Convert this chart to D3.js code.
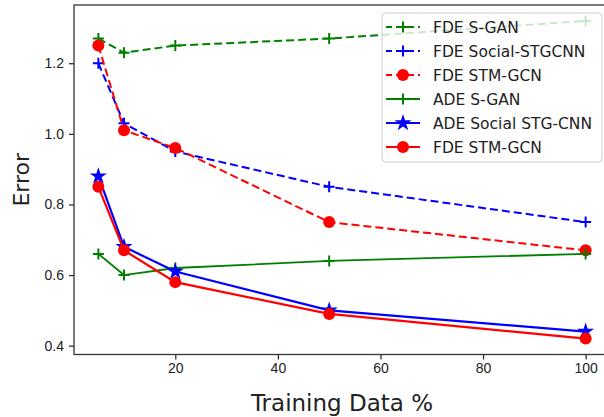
<!DOCTYPE html>
<html>
<head>
<meta charset="utf-8">
<script src="https://cdn.jsdelivr.net/npm/d3@7"></script>
<style>
  body { margin: 0; background: #fff; }
  svg { display: block; font-family: 'DejaVu Sans', sans-serif; }
  .tick text { font-size: 14px; fill: #222; }
  .tick line { stroke: #222; stroke-width: 1.2; }
  .domain { display: none; }
</style>
</head>
<body>
<svg width="604" height="417"></svg>
<script>
// training data percentage (x values)
const trainPct = [5, 10, 20, 50, 100];

const seriesNames = ['FDE S-GAN', 'FDE Social-STGCNN', 'FDE STM-GCN',
                     'ADE S-GAN', 'ADE Social STG-CNN', 'FDE STM-GCN'];

const fdeSGAN   = [1.27, 1.23, 1.25, 1.27, 1.32];
const fdeSocial = [1.20, 1.03, 0.95, 0.85, 0.75];
const fdeSTM    = [1.25, 1.01, 0.96, 0.75, 0.67];
const adeSGAN   = [0.66, 0.60, 0.62, 0.64, 0.66];
const adeSocial = [0.88, 0.68, 0.61, 0.50, 0.44];
const adeSTM    = [0.85, 0.67, 0.58, 0.49, 0.42];

const xTicks = [20, 40, 60, 80, 100];
const yTicks = [0.4, 0.6, 0.8, 1.0, 1.2];

const seriesValues = [fdeSGAN, fdeSocial, fdeSTM, adeSGAN, adeSocial, adeSTM];
const styles = [
  { color: '#008000', dash: '8,4', marker: 'plus', width: 2 },
  { color: '#0000ff', dash: '8,4', marker: 'plus', width: 2 },
  { color: '#ff0000', dash: '8,4', marker: 'circle', width: 2 },
  { color: '#008000', dash: null, marker: 'plus', width: 1.8 },
  { color: '#0000ff', dash: null, marker: 'star', width: 2.2 },
  { color: '#ff0000', dash: null, marker: 'circle', width: 2.2 }
];

const svg = d3.select('svg');
const m = { left: 74, right: 610, top: 5, bottom: 354.5 };

const x = d3.scaleLinear().domain([0.25, 104.75]).range([m.left, m.right]);
const y = d3.scaleLinear().domain([0.375, 1.365]).range([m.bottom, m.top]);

// axes
svg.append('g')
  .attr('transform', `translate(0,${m.bottom})`)
  .call(d3.axisBottom(x).tickValues(xTicks).tickSize(5).tickPadding(4).tickFormat(d3.format('d')));

svg.append('g')
  .attr('transform', `translate(${m.left},0)`)
  .call(d3.axisLeft(y).tickValues(yTicks).tickSize(5).tickPadding(5).tickFormat(d3.format('.1f')));

// frame
svg.append('rect')
  .attr('x', m.left).attr('y', m.top)
  .attr('width', m.right - m.left).attr('height', m.bottom - m.top)
  .attr('fill', 'none').attr('stroke', '#333').attr('stroke-width', 1.3);

// axis titles
svg.append('text')
  .attr('x', (m.left + m.right) / 2).attr('y', 411)
  .attr('text-anchor', 'middle')
  .style('font-size', '23px').attr('fill', '#222')
  .text('Training Data %');

svg.append('text')
  .attr('transform', `translate(29,${(m.top + m.bottom) / 2}) rotate(-90)`)
  .attr('text-anchor', 'middle')
  .style('font-size', '22px').attr('fill', '#222')
  .text('Error');

const drawMarker = (sel, st, cx, cy) => {
  if (st.marker === 'plus') {
    const s = 5.5;
    sel.append('path')
      .attr('d', `M${cx - s},${cy}H${cx + s}M${cx},${cy - s}V${cy + s}`)
      .attr('stroke', st.color).attr('stroke-width', 2).attr('fill', 'none');
  } else if (st.marker === 'circle') {
    sel.append('circle')
      .attr('cx', cx).attr('cy', cy).attr('r', 6)
      .attr('fill', st.color);
  } else if (st.marker === 'star') {
    sel.append('path')
      .attr('d', d3.symbol().type(d3.symbolStar).size(90)())
      .attr('transform', `translate(${cx},${cy})`)
      .attr('fill', st.color);
  }
};

const line = d3.line()
  .x((d, i) => x(trainPct[i]))
  .y(d => y(d));

const plot = svg.append('g');
seriesValues.forEach((vals, k) => {
  const st = styles[k];
  const g = plot.append('g');
  g.append('path')
    .attr('d', line(vals))
    .attr('fill', 'none')
    .attr('stroke', st.color)
    .attr('stroke-width', st.width)
    .attr('stroke-dasharray', st.dash);
  vals.forEach((v, i) => drawMarker(g, st, x(trainPct[i]), y(v)));
});

// legend
const legend = svg.append('g');
legend.append('rect')
  .attr('x', 382).attr('y', 13)
  .attr('width', 220).attr('height', 149)
  .attr('rx', 4)
  .attr('fill', '#fff').attr('fill-opacity', 0.8)
  .attr('stroke', '#ccc').attr('stroke-width', 1);

seriesNames.forEach((name, k) => {
  const st = styles[k];
  const cy = 27 + k * 24;
  const g = legend.append('g');
  g.append('line')
    .attr('x1', 386).attr('x2', 420)
    .attr('y1', cy).attr('y2', cy)
    .attr('stroke', st.color)
    .attr('stroke-width', st.width)
    .attr('stroke-dasharray', st.dash ? '7,4' : null)
    .attr('stroke-dashoffset', st.dash ? 1 : null);
  drawMarker(g, st, 403, cy);
  g.append('text')
    .attr('x', 433).attr('y', cy)
    .attr('dy', '0.36em')
    .style('font-size', '15.5px').attr('fill', '#222')
    .text(name);
});
</script>
</body>
</html>
